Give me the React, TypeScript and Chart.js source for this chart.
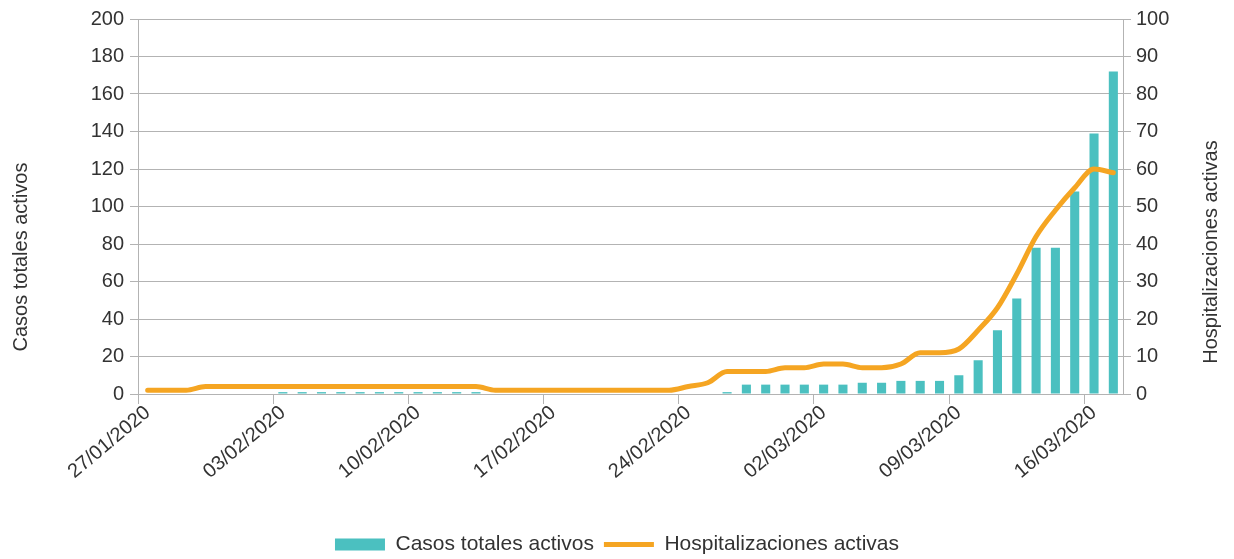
import React, { useEffect, useRef } from 'react';
import { Chart, registerables } from 'chart.js';

Chart.register(...registerables);

const dates = [
  '27/01/2020', '28/01/2020', '29/01/2020', '30/01/2020', '31/01/2020',
  '01/02/2020', '02/02/2020', '03/02/2020', '04/02/2020', '05/02/2020', '06/02/2020', '07/02/2020',
  '08/02/2020', '09/02/2020', '10/02/2020', '11/02/2020', '12/02/2020', '13/02/2020', '14/02/2020',
  '15/02/2020', '16/02/2020', '17/02/2020', '18/02/2020', '19/02/2020', '20/02/2020', '21/02/2020',
  '22/02/2020', '23/02/2020', '24/02/2020', '25/02/2020', '26/02/2020', '27/02/2020', '28/02/2020',
  '29/02/2020', '01/03/2020', '02/03/2020', '03/03/2020', '04/03/2020', '05/03/2020', '06/03/2020',
  '07/03/2020', '08/03/2020', '09/03/2020', '10/03/2020', '11/03/2020', '12/03/2020', '13/03/2020',
  '14/03/2020', '15/03/2020', '16/03/2020', '17/03/2020',
];

const casosTotalesActivos = [
  0, 0, 0, 0, 0, 0, 0,
  1, 1, 1, 1, 1, 1, 1, 1, 1, 1, 1,
  0, 0, 0, 0, 0, 0, 0, 0, 0, 0, 0, 0,
  1,
  5, 5, 5, 5, 5, 5,
  6, 6,
  7, 7, 7,
  10, 18, 34, 51, 78, 78, 108, 139, 172,
];

const hospitalizacionesActivas = [
  1, 1, 1,
  2, 2, 2, 2, 2, 2, 2, 2, 2, 2, 2, 2, 2, 2, 2,
  1, 1, 1, 1, 1, 1, 1, 1, 1, 1,
  2, 3, 6, 6, 6, 7, 7, 8, 8, 7, 7, 8, 11, 11, 12, 17, 23, 32, 42, 49, 55, 60, 59,
];

const leftAxis = { min: 0, max: 200, step: 20 };
const rightAxis = { min: 0, max: 100, step: 10 };
const labelEvery = 7;

const seriesNames = ['Casos totales activos', 'Hospitalizaciones activas'];
const axisTitles = ['Casos totales activos', 'Hospitalizaciones activas'];

const TEAL = 'rgb(75,192,192)';
const ORANGE = '#f5a522';
const GRID = '#b3b3b3';
const TEXT = '#333333';
const FONT = '"Liberation Sans", Arial, sans-serif';

export default function App() {
  const ref = useRef<HTMLCanvasElement>(null);

  useEffect(() => {
    document.body.style.margin = '0';
    const titlePlugin = {
      id: 'axisTitles',
      afterDraw(chart: any) {
        const ctx = chart.ctx;
        const drawTitle = (text: string, x: number, y: number) => {
          ctx.save();
          ctx.fillStyle = TEXT;
          ctx.font = `20px ${FONT}`;
          ctx.textAlign = 'center';
          ctx.textBaseline = 'middle';
          ctx.translate(x, y);
          ctx.rotate(-Math.PI / 2);
          ctx.fillText(text, 0, 0);
          ctx.restore();
        };
        drawTitle(axisTitles[0], 21, 257);
        drawTitle(axisTitles[1], 1211, 252);
      },
    };

    const chart = new Chart(ref.current as HTMLCanvasElement, {
      type: 'bar',
      data: {
        labels: dates,
        datasets: [
          {
            type: 'bar',
            label: seriesNames[0],
            data: casosTotalesActivos,
            backgroundColor: TEAL,
            borderWidth: 0,
            yAxisID: 'y',
            order: 2,
            barPercentage: 0.47,
            categoryPercentage: 1,
          } as any,
          {
            type: 'line',
            label: seriesNames[1],
            data: hospitalizacionesActivas,
            borderColor: ORANGE,
            backgroundColor: ORANGE,
            borderWidth: 5,
            pointRadius: 0,
            pointHoverRadius: 0,
            yAxisID: 'y1',
            order: 1,
            cubicInterpolationMode: 'monotone',
            borderCapStyle: 'round',
            borderJoinStyle: 'round',
          } as any,
        ],
      },
      options: {
        responsive: false,
        animation: false,
        devicePixelRatio: 1,
        layout: { padding: { top: 19, left: 0, right: 0, bottom: 0 } },
        plugins: {
          tooltip: { enabled: false },
          legend: {
            position: 'bottom',
            maxHeight: 35,
            labels: {
              usePointStyle: true,
              pointStyleWidth: 50,
              boxHeight: 12,
              padding: 10,
              color: TEXT,
              font: { family: FONT, size: 21 },
              generateLabels: (c: any) => [
                {
                  text: c.data.datasets[0].label,
                  fillStyle: TEAL,
                  strokeStyle: TEAL,
                  lineWidth: 0,
                  pointStyle: 'rect',
                  hidden: false,
                  datasetIndex: 0,
                  fontColor: TEXT,
                },
                {
                  text: c.data.datasets[1].label,
                  fillStyle: ORANGE,
                  strokeStyle: ORANGE,
                  lineWidth: 5,
                  pointStyle: 'line',
                  hidden: false,
                  datasetIndex: 1,
                  fontColor: TEXT,
                },
              ],
            },
          } as any,
        },
        scales: {
          x: {
            type: 'category',
            offset: true,
            grid: {
              display: true,
              drawOnChartArea: false,
              drawTicks: true,
              tickLength: 10,
              color: (c: any) => (c.index % labelEvery === 0 ? GRID : 'rgba(0,0,0,0)'),
            },
            border: { display: true, color: GRID },
            ticks: {
              autoSkip: false,
              minRotation: 40,
              maxRotation: 40,
              padding: -3,
              color: TEXT,
              font: { family: FONT, size: 20 },
              callback: (_v: any, i: number) => (i % labelEvery === 0 ? dates[i] : ''),
            },
            afterFit: (s: any) => {
              s.height = 130;
            },
          } as any,
          y: {
            position: 'left',
            min: leftAxis.min,
            max: leftAxis.max,
            ticks: { stepSize: leftAxis.step, padding: 6, color: TEXT, font: { family: FONT, size: 20 } },
            grid: { color: GRID, tickLength: 8 },
            border: { color: GRID },
            afterFit: (s: any) => {
              s.width = 138;
            },
          } as any,
          y1: {
            position: 'right',
            min: rightAxis.min,
            max: rightAxis.max,
            ticks: { stepSize: rightAxis.step, padding: 5, color: TEXT, font: { family: FONT, size: 20 } },
            grid: { drawOnChartArea: false, color: GRID, tickLength: 8 },
            border: { color: GRID },
            afterFit: (s: any) => {
              s.width = 111;
            },
          } as any,
        },
      },
      plugins: [titlePlugin],
    });
    return () => chart.destroy();
  }, []);

  return (
    <div style={{ position: 'absolute', left: 0, top: 0, width: 1234, height: 559 }}>
      <canvas ref={ref} width={1234} height={559} style={{ display: 'block' }} />
    </div>
  );
}
